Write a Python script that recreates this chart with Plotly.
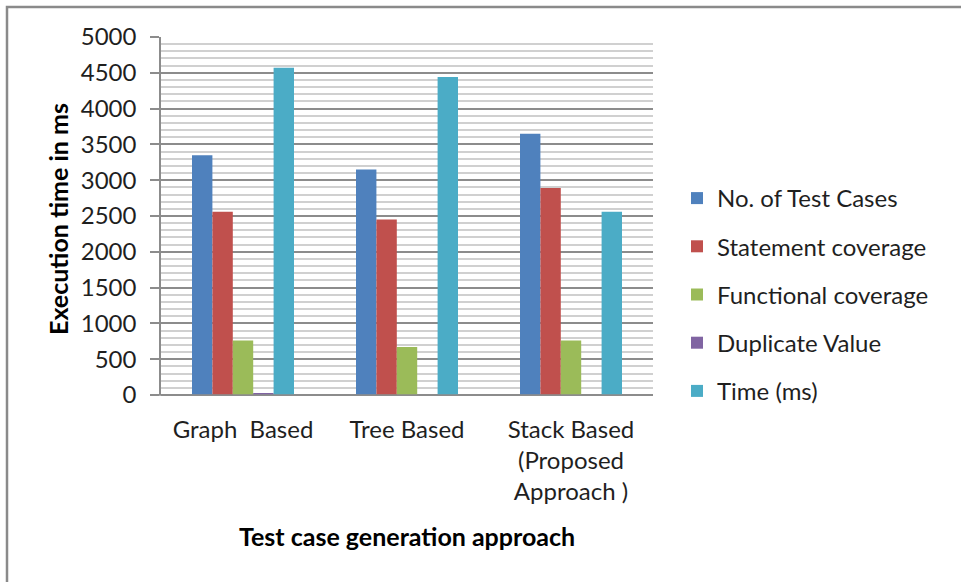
import plotly.graph_objects as go

# Categories (x axis)
categories = ["Graph\u00a0 Based", "Tree Based", "Stack Based<br>(Proposed<br>Approach )"]

# Series values per category
no_of_test_cases = [3350, 3150, 3650]
statement_coverage = [2560, 2450, 2890]
functional_coverage = [760, 670, 760]
duplicate_value = [20, 0, 0]
time_ms = [4570, 4440, 2560]

series_names = ["No. of Test Cases", "Statement coverage", "Functional coverage",
                "Duplicate Value", "Time (ms)"]
series_values = [no_of_test_cases, statement_coverage, functional_coverage,
                 duplicate_value, time_ms]
series_colors = ["#4F81BD", "#C0504D", "#9BBB59", "#8064A2", "#4BACC6"]

y_tick_values = [0, 500, 1000, 1500, 2000, 2500, 3000, 3500, 4000, 4500, 5000]

FONT = "Lato, 'Open Sans', sans-serif"
TEXT = "#1f1f1f"

W, H = 961, 582
ML, MR, MT, MB = 161, 308, 37, 187
PW, PH = W - ML - MR, H - MT - MB


def px_x(px):
    return (px - ML) / PW


def px_y(py):
    return (H - MB - py) / PH


fig = go.Figure()
for i, (name, vals, col) in enumerate(zip(series_names, series_values, series_colors)):
    fig.add_trace(go.Bar(
        x=categories, y=vals, name=name,
        marker=dict(color=col, line=dict(width=0)),
        legendgroup=f"g{i}",
    ))

fig.update_layout(
    width=W, height=H,
    margin=dict(l=ML, r=MR, t=MT, b=MB, autoexpand=False),
    paper_bgcolor="white", plot_bgcolor="white",
    barmode="group", bargap=0.378, bargroupgap=0,
    font=dict(family=FONT, size=24, color=TEXT),
    showlegend=True,
    legend=dict(
        x=px_x(677), xanchor="left",
        y=px_y(176), yanchor="top",
        traceorder="grouped", tracegroupgap=14,
        font=dict(family=FONT, size=24, color=TEXT),
        bgcolor="rgba(0,0,0,0)",
    ),
    xaxis=dict(
        type="category",
        showline=False, ticks="", showgrid=False,
        tickfont=dict(family=FONT, size=24, color=TEXT),
        ticklabelstandoff=18,
    ),
    yaxis=dict(
        range=[0, 5000],
        tickvals=y_tick_values,
        showline=True, linecolor="#8c8c8c", linewidth=1.5,
        ticks="outside", ticklen=9, tickcolor="#8c8c8c", tickwidth=1.5,
        showgrid=True, gridcolor="#8c8c8c", gridwidth=1.5,
        minor=dict(dtick=100, showgrid=True, gridcolor="#d0d0d0", gridwidth=1.5),
        zeroline=True, zerolinecolor="#8c8c8c", zerolinewidth=1.5,
        tickfont=dict(family=FONT, size=24, color=TEXT),
        ticklabelstandoff=9,
    ),
    shapes=[
        # outer chart border
        dict(type="rect", xref="paper", yref="paper",
             x0=px_x(7), x1=px_x(975), y0=px_y(596), y1=px_y(7),
             line=dict(color="#8a8a8a", width=2.5), layer="below"),
        # horizontal axis line extends under the y tick
        dict(type="line", xref="paper", yref="paper",
             x0=px_x(152), x1=1, y0=0, y1=0,
             line=dict(color="#8c8c8c", width=1.5)),
    ],
    annotations=[
        dict(text="<b>Execution time in ms</b>", xref="paper", yref="paper",
             x=px_x(58), y=px_y(219), xanchor="center", yanchor="middle",
             textangle=-90, showarrow=False,
             font=dict(family=FONT, size=25, color="#000000")),
        dict(text="<b>Test case generation approach</b>", xref="paper", yref="paper",
             x=px_x(407), y=px_y(536), xanchor="center", yanchor="middle",
             showarrow=False,
             font=dict(family=FONT, size=25, color="#000000")),
    ],
)

fig.write_html("out.html")
